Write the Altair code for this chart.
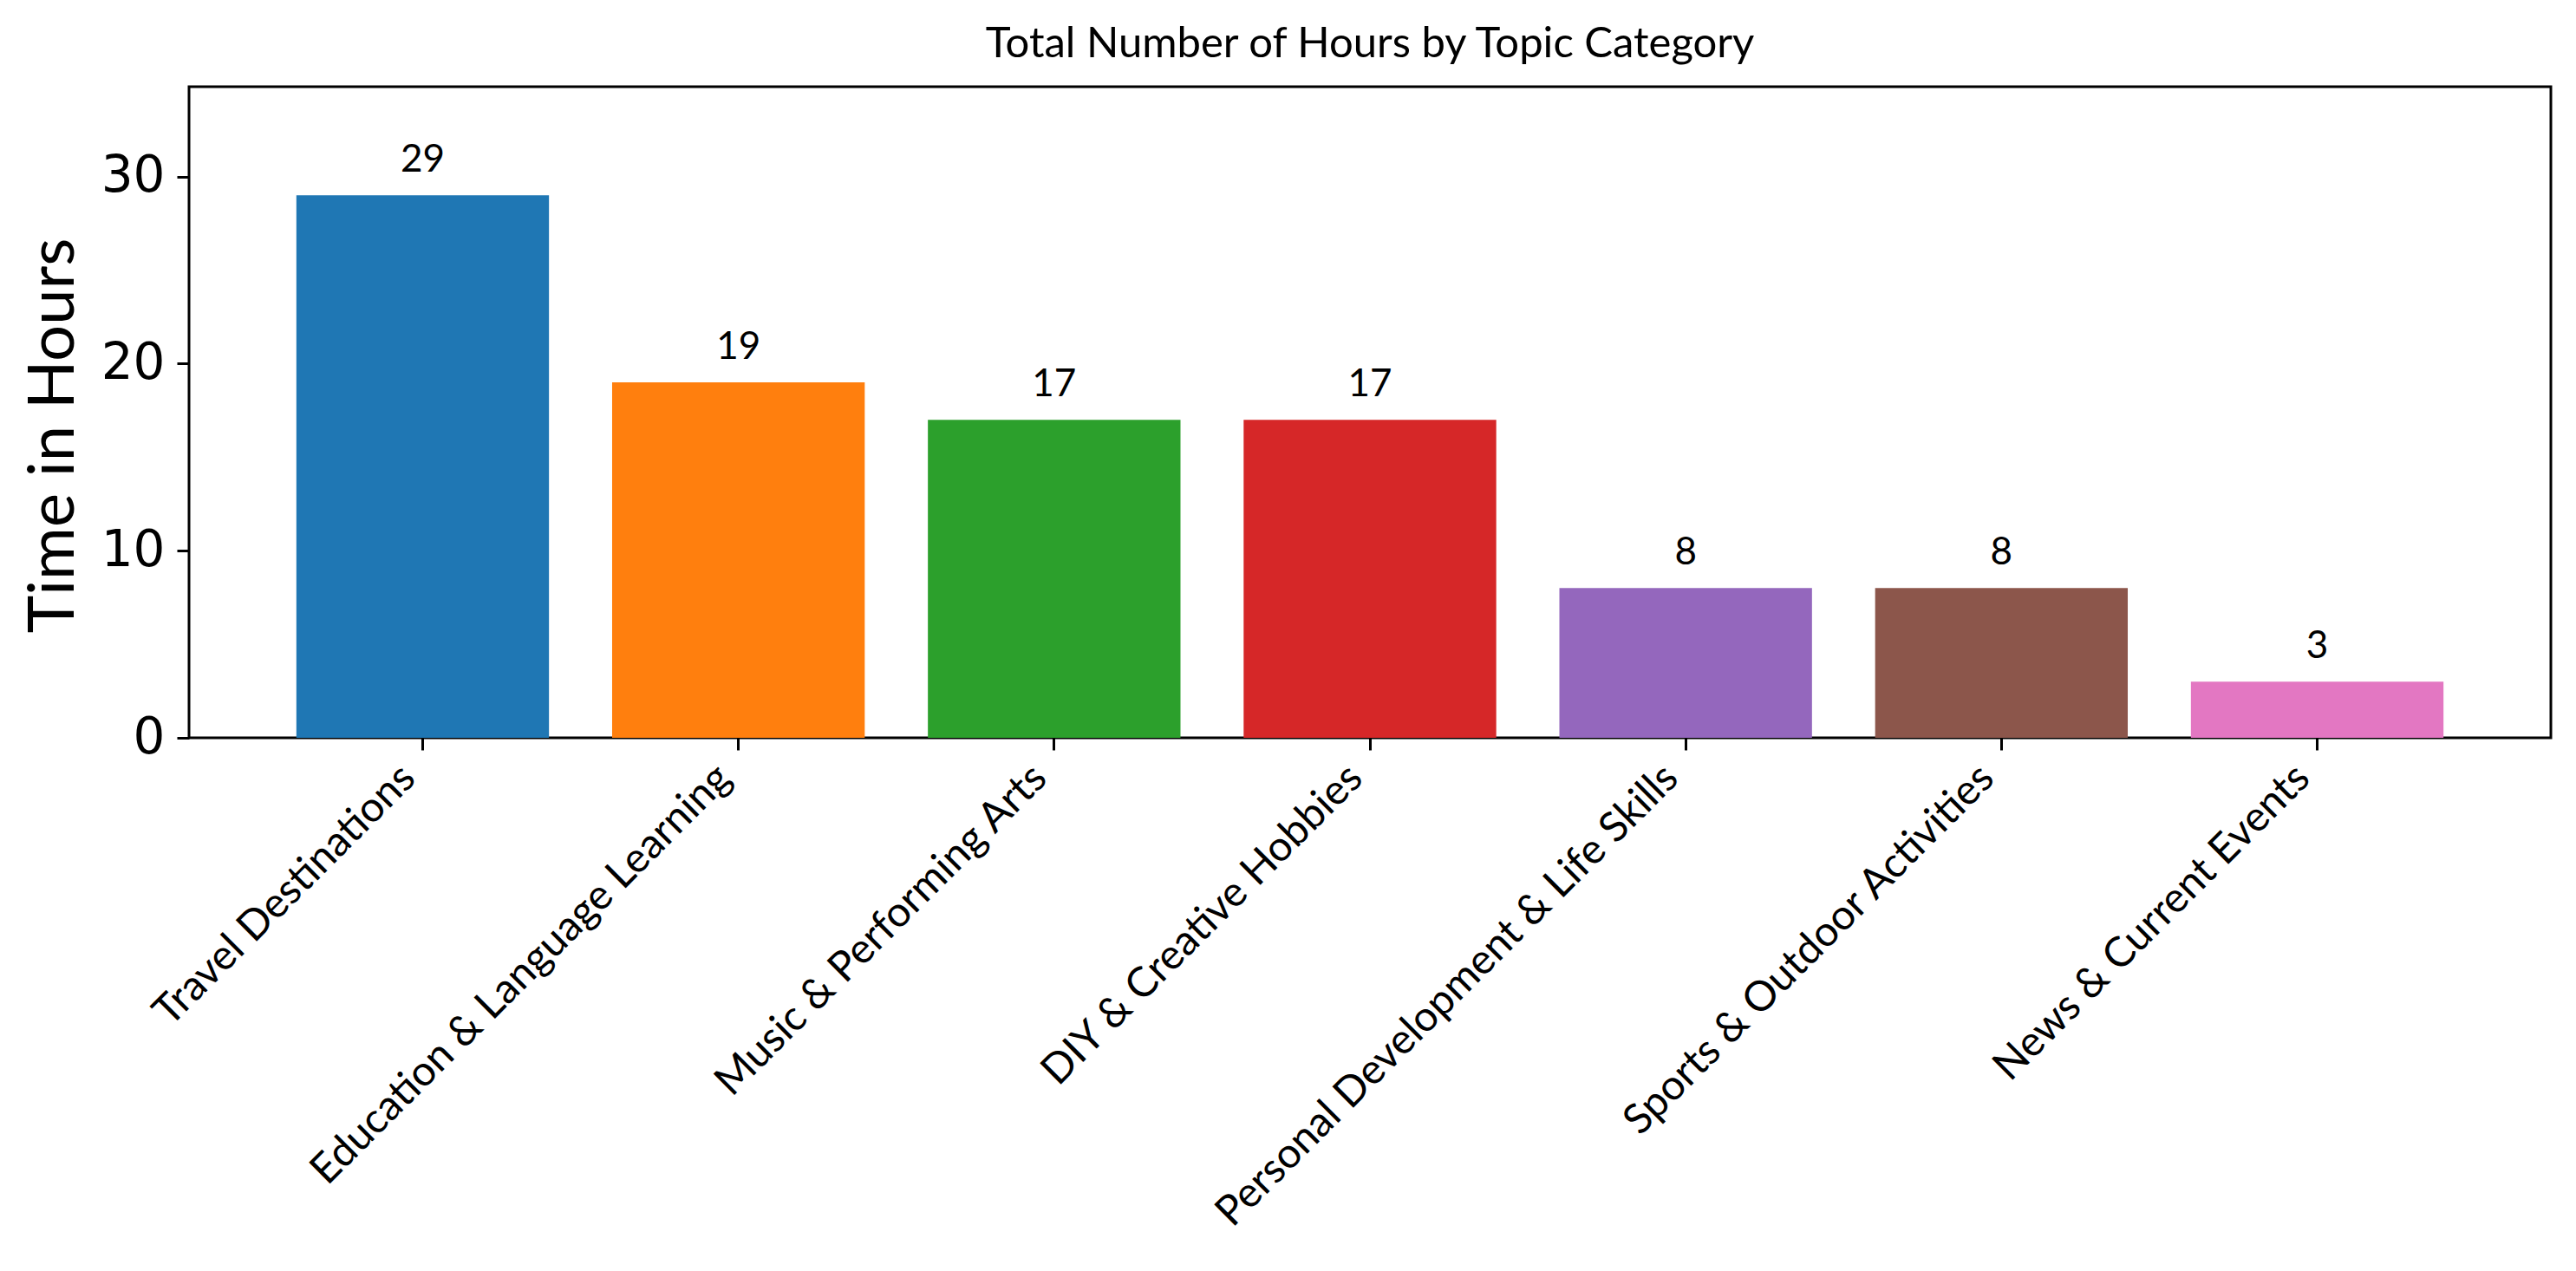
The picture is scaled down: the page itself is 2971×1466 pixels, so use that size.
import altair as alt
import pandas as pd

categories = [
    "Travel Destinations",
    "Education & Language Learning",
    "Music & Performing Arts",
    "DIY & Creative Hobbies",
    "Personal Development & Life Skills",
    "Sports & Outdoor Activities",
    "News & Current Events",
]
hours = [29, 19, 17, 17, 8, 8, 3]
colors = ["#1f77b4", "#ff7f0e", "#2ca02c", "#d62728", "#9467bd", "#8c564b", "#e377c2"]
y_ticks = [0, 10, 20, 30]

df = pd.DataFrame({"category": categories, "hours": hours})

HAND = "Lato"

x = alt.X(
    "category:N",
    sort=categories,
    scale=alt.Scale(paddingInner=0.2, paddingOuter=0.34),
    axis=alt.Axis(
        title=None,
        labelAngle=-45,
        labelAlign="right",
        labelBaseline="top",
        labelFont=HAND,
        labelFontSize=48,
        labelColor="black",
        labelPadding=8,
        labelOffset=-33,
        labelLimit=0,
        tickSize=14,
        tickWidth=3,
        tickColor="black",
        domain=False,
        grid=False,
    ),
)
y = alt.Y(
    "hours:Q",
    scale=alt.Scale(domain=[0, 34.8], nice=False, zero=True),
    axis=alt.Axis(
        title="Time in Hours",
        titleFont=HAND,
        titleFontWeight="normal",
        titleFontSize=74,
        titleColor="black",
        titleAngle=270,
        titleAlign="center",
        titleBaseline="middle",
        titleX=-156,
        titleY=402,
        values=y_ticks,
        labelFont="DejaVu Sans",
        labelFontSize=58,
        labelColor="black",
        labelPadding=14,
        tickSize=14,
        tickWidth=3,
        tickColor="black",
        domain=False,
        grid=False,
    ),
)

bars = alt.Chart(df).mark_bar().encode(
    x=x,
    y=y,
    color=alt.Color("category:N", scale=alt.Scale(domain=categories, range=colors), legend=None),
)

labels = alt.Chart(df).mark_text(
    baseline="bottom", dy=-18, font=HAND, fontSize=44, color="black"
).encode(x=x, y=y, text="hours:Q")

chart = (
    alt.layer(bars, labels)
    .properties(
        width=2724,
        height=751,
        background="white",
        autosize=alt.AutoSizeParams(type="none"),
        padding={"left": 210, "top": 92, "right": 21, "bottom": 607},
        title=alt.Title(
            "Total Number of Hours by Topic Category",
            font=HAND,
            fontSize=49,
            fontWeight="normal",
            color="black",
            anchor="middle",
            offset=24,
        ),
    )
    .configure_view(stroke="black", strokeWidth=3)
)

chart.save("out.html", embed_options={"renderer": "svg", "actions": False})
